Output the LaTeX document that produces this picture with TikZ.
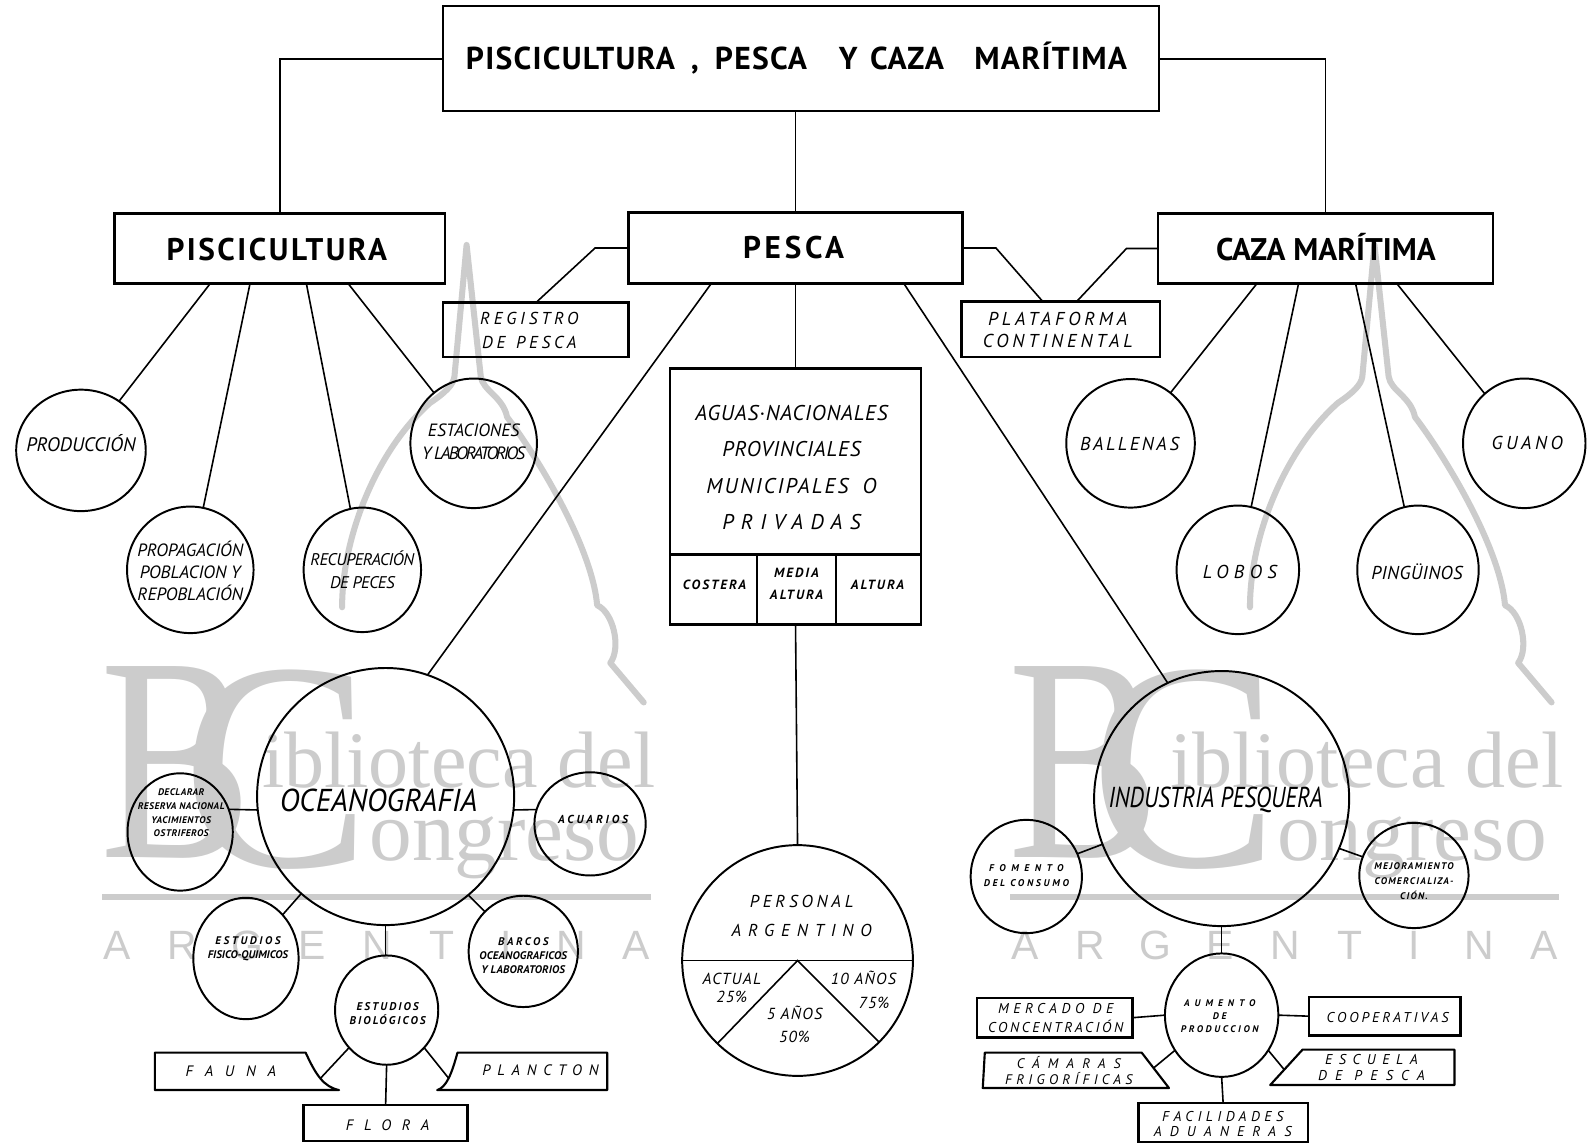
\documentclass[tikz,border=0pt]{standalone}
\usepackage{fontspec}
\setmainfont{PT Sans}
\newfontfamily\wmserif{Liberation Serif}
\newfontfamily\wmsans{Liberation Sans}
\usetikzlibrary{shapes.geometric,calc}
\definecolor{wmgray}{gray}{0.80}
\newcommand\hwf[3]{\fontsize{#1}{#2}\selectfont\itshape\addfontfeatures{LetterSpace=#3}}
\newcommand\hbf[3]{\fontsize{#1}{#2}\selectfont\bfseries\itshape\addfontfeatures{LetterSpace=#3}}
\newcommand\hdf[2]{\fontsize{#1}{#1}\selectfont\bfseries\addfontfeatures{LetterSpace=#2}}
\newcommand\lsp[1]{\addfontfeatures{LetterSpace=#1}}
\begin{document}
\begin{tikzpicture}[x=0.02cm,y=-0.02cm,
  every node/.style={inner sep=0pt,outer sep=0pt},
  box/.style args={#1/#2}{draw,rectangle,line width=1.3pt,minimum width=#1*0.02cm,minimum height=#2*0.02cm},
  circ/.style args={#1/#2}{draw,ellipse,line width=1.1pt,minimum width=#1*0.02cm,minimum height=#2*0.02cm},
  conn/.style={line width=0.9pt},
  tag/.style={line width=1.2pt,line join=round},
  lbl/.style={align=center},
  wmtext/.style={text=wmgray,anchor=base west},
  wmline/.style={draw=wmgray,line width=3.4pt,line cap=round,line join=round}]
\useasboundingbox (0,0) rectangle (1568,1129);
\fill[white] (0,0) rectangle (1568,1129);

% ---------------- watermark (two copies) ----------------
\foreach \dx/\n in {0/L,897/R}{
 \begin{scope}[shift={(\dx,0)}]
  \draw[wmline] (338,600) .. controls (338,530) and (372,445) .. (425,398)
     .. controls (440,388) and (448,380) .. (449,372) -- (461,242) -- (475,372)
     .. controls (477,386) and (497,392) .. (501,412)
     .. controls (530,450) and (585,540) .. (590,598)
     .. controls (606,605) and (614,640) .. (603,655) -- (636,694);
  \node[wmtext,font=\wmserif\fontsize{164}{164}\selectfont] (\n B) at (99,847) {\scalebox{0.78}[1]{B}};
  \node[wmtext,font=\wmserif\fontsize{167}{167}\selectfont] (\n C) at (180,856) {\scalebox{0.95}[1]{C}};
  \node[wmtext,font=\wmserif\fontsize{45}{46}\selectfont] (\n I) at (259,778) {iblioteca del};
  \node[wmtext,font=\wmserif\fontsize{48}{48}\selectfont] (\n O) at (365,850) {ongreso};
  \fill[wmgray] (101,883) rectangle (643,889);
  \foreach \ch [count=\k] in {A,R,G,E,N,T,I,N,A}{
    \node[text=wmgray,anchor=base,font=\wmsans\fontsize{23}{23}\selectfont] (\n a\k) at ({116+(\k-1)*64.1},948) {\ch};
  }
 \end{scope}
}

% ---------------- top level ----------------
\node[box=707/104] (title) at (791.5,58) {};
\node[anchor=base,font=\hdf{17.8}{4}] (titleT) at (787,69) {PISCICULTURA\hspace{9pt},\hspace{9pt}PESCA\hspace{18pt}Y\hspace{7pt}CAZA\hspace{17pt}MARÍTIMA};

\node[box=327/69] (pisc) at (276.5,245.5) {};
\node[box=330/70] (pesca) at (786,245) {};
\node[box=331/69] (caza) at (1309.5,245.5) {};
\node[anchor=base,font=\hdf{17.6}{8}] (piscT) at (273.5,257) {PISCICULTURA};
\node[anchor=base,font=\hdf{17.6}{12}] (pescaT) at (784,255) {PESCA};
\node[anchor=base,font=\hdf{17.6}{0}] (cazaT) at (1310,257) {CAZA MARÍTIMA};

\draw[conn] (title.west) -| (pisc.north);
\draw[conn] (title.east) -| (caza.north);
\draw[conn] (title.south -| pesca.north) -- (pesca.north);

% registro / plataforma
\node[box=183/54] (registro) at (529.5,326) {};
\node[lbl,font=\hwf{9.7}{13}{22}] (regT) at (523,326.5) {REGISTRO\\DE\hspace{6pt}PESCA};
\node[box=196/55] (plat) at (1048,325.5) {};
\node[lbl,font=\hwf{10.5}{12.5}{21}] (platT) at (1045,326) {PLATAFORMA\\CONTINENTAL};
\draw[conn] (pesca.west) -- ++(-33,0) -- (registro.north);
\draw[conn] (pesca.east) -- ++(33,0) -- ($(plat.north west)!0.41!(plat.north east)$);
\draw[conn] (caza.west) -- ++(-31,0) -- ($(plat.north west)!0.58!(plat.north east)$);

% ---------------- piscicultura children ----------------
\node[circ=128/120] (prod) at (80,445) {};
\node[circ=125/125] (prop) at (188,563) {};
\node[circ=116/123] (recu) at (358,563) {};
\node[circ=125/128] (esta) at (468,438) {};
\node[font=\hwf{11}{13}{0}] (prodT) at (80,438) {PRODUCCIÓN};
\node[lbl,font=\hwf{10}{12.2}{0}] (propT) at (188,564) {PROPAGACIÓN\\POBLACION Y\\REPOBLACIÓN};
\node[lbl,font=\hwf{9.5}{12.5}{-3}] (recT) at (358,563) {RECUPERACIÓN\\DE PECES};
\node[lbl,font=\hwf{10}{13}{0}] (estT) at (468,436.5) {ESTACIONES\\{\lsp{-12}Y LABORATORIOS}};
\coordinate (ps1) at ($(pisc.south west)!0.29!(pisc.south east)$);
\coordinate (ps2) at ($(pisc.south west)!0.41!(pisc.south east)$);
\coordinate (ps3) at ($(pisc.south west)!0.58!(pisc.south east)$);
\coordinate (ps4) at ($(pisc.south west)!0.706!(pisc.south east)$);
\draw[conn] (ps1) -- (prod);
\draw[conn] (ps2) -- (prop);
\draw[conn] (ps3) -- (recu);
\draw[conn] (ps4) -- (esta);

% ---------------- caza children ----------------
\node[circ=127/127] (ball) at (1117,438) {};
\node[circ=121/127] (lobo) at (1223,563) {};
\node[circ=120/127] (ping) at (1401,563) {};
\node[circ=121/128] (guan) at (1506,438) {};
\node[font=\hwf{10.5}{13}{14}] (ballT) at (1116,439) {BALLENAS};
\node[font=\hwf{10.5}{13}{29}] (lobT) at (1225,565) {LOBOS};
\node[font=\hwf{10.5}{13}{2}] (pinT) at (1400,565) {PINGÜINOS};
\node[font=\hwf{10.5}{13}{19}] (guaT) at (1509,438) {GUANO};
\coordinate (cz1) at ($(caza.south west)!0.296!(caza.south east)$);
\coordinate (cz2) at ($(caza.south west)!0.42!(caza.south east)$);
\coordinate (cz3) at ($(caza.south west)!0.59!(caza.south east)$);
\coordinate (cz4) at ($(caza.south west)!0.713!(caza.south east)$);
\draw[conn] (cz1) -- (ball);
\draw[conn] (cz2) -- (lobo);
\draw[conn] (cz3) -- (ping);
\draw[conn] (cz4) -- (guan);

% ---------------- aguas ----------------
\node[box=248/253] (aguas) at (786,490.5) {};
\coordinate (dv) at (0,548);
\coordinate (c1) at (748,548);
\coordinate (c2) at (826,548);
\draw[line width=1.3pt] (aguas.west |- dv) -- (aguas.east |- dv);
\draw[line width=1.3pt] (c1) -- (c1 |- aguas.south);
\draw[line width=1.3pt] (c2) -- (c2 |- aguas.south);
\node[lbl,font=\hwf{12}{20.4}{4}] (aguasT) at (782,462) {AGUAS·NACIONALES\\PROVINCIALES\\{\lsp{10}MUNICIPALES\hspace{8pt}O}\\{\lsp{34}PRIVADAS}};
\node[font=\hbf{7.5}{9}{15}] (cosT) at (706,578) {COSTERA};
\node[lbl,font=\hbf{7.5}{12.5}{15}] (medT) at (787,577) {MEDIA\\ALTURA};
\node[font=\hbf{7.5}{9}{15}] (altT) at (867,578) {ALTURA};
\draw[conn] (pesca.south) -- (aguas.north);

% ---------------- personal ----------------
\node[circ=228/228] (pers) at (788,949) {};
\draw[conn] (aguas.south) -- (pers.north);
\draw[conn] (pers.west) -- (pers.east);
\draw[conn] (pers.-134) -- (pers.center) -- (pers.-45);
\node[lbl,font=\hwf{9.7}{15.9}{22}] (persT) at (792,905) {PERSONAL\\{\lsp{40}ARGENTINO}};
\node[lbl,font=\hwf{9}{10.2}{8}] (actT) at (723,976) {ACTUAL\\25\%};
\node[lbl,font=\hwf{9}{13}{8}] (diezT) at (853,978) {10 AÑOS\\\hspace{12pt}75\%};
\node[lbl,font=\hwf{9}{12.5}{8}] (cincoT) at (785,1012) {5 AÑOS\\50\%};

% ---------------- oceanografia ----------------
\node[circ=254/254] (ocean) at (381,787) {};
\node[circ=104/116] (decl) at (178,822) {};
\node[circ=110/102] (acua) at (583,814) {};
\node[circ=104/120] (fis) at (243,947) {};
\node[circ=108/110] (barc) at (517,940) {};
\node[circ=102/108] (bio) at (382,998) {};
\node[box=162/35] (flora) at (381,1109.5) {};
\draw[conn] ($(pesca.south west)!0.248!(pesca.south east)$) -- (ocean.71);
\node[font=\hwf{17.8}{20}{0}] (oceanT) at (374,791) {\scalebox{0.95}[1]{OCEANOGRAFIA}};
\node[lbl,font=\hbf{5.4}{7.8}{5}] (declT) at (179,803) {DECLARAR\\RESERVA NACIONAL\\YACIMIENTOS\\OSTRIFEROS};
\node[font=\hbf{6.5}{8}{25}] (acuaT) at (586,810) {ACUARIOS};
\node[lbl,font=\hbf{6.2}{7.8}{0}] (fisT) at (245,937.5) {{\lsp{24}ESTUDIOS}\\FISICO-QUIMICOS};
\node[lbl,font=\hbf{6.2}{7.8}{2}] (barcT) at (517,944) {{\lsp{24}BARCOS}\\OCEANOGRAFICOS\\Y LABORATORIOS};
\node[lbl,font=\hbf{6.3}{7.8}{19}] (bioT) at (383,1001.5) {ESTUDIOS\\BIOLÓGICOS};
\draw[conn] (decl.25) -- (ocean.186);
\draw[conn] (ocean.354) -- (acua.165);
\draw[conn] (ocean.229) -- (fis.50);
\draw[conn] (ocean.310) -- (barc.134);
\draw[conn] (ocean.south) -- (ocean.south |- bio.north);
% tags
\draw[tag] (153,1040) -- (302,1040) .. controls (312,1062) and (320,1074) .. (335,1077) -- (153,1077) -- cycle;
\draw[tag] (452,1040) -- (600,1040) -- (600,1077) -- (432,1077) .. controls (441,1074) and (446,1062) .. (452,1040) -- cycle;
\coordinate (faunaC) at (317,1065);
\coordinate (planC) at (443,1065);
\node[font=\hwf{8.5}{10}{78}] (faunaT) at (228,1058) {FAUNA};
\node[font=\hwf{8.5}{10}{45}] (planT) at (534,1057) {PLANCTON};
\node[font=\hwf{8.5}{10}{71}] (floraT) at (383,1112) {FLORA};
\draw[conn] (bio.225) -- (faunaC);
\draw[conn] (bio.315) -- (planC);
\draw[conn] (bio.south) -- (flora.north);

% ---------------- industria pesquera ----------------
\node[circ=252/252] (ind) at (1207,789) {};
\node[circ=110/112] (fom) at (1014,866) {};
\node[circ=108/104] (mej) at (1397,865) {};
\node[circ=112/122] (aum) at (1207,1003) {};
\node[box=154/39] (merc) at (1042,1005.5) {};
\node[box=150/38] (coop) at (1368,1004) {};
\node[box=167/38] (fac) at (1208.5,1109) {};
\draw[conn] ($(pesca.south west)!0.824!(pesca.south east)$) -- (ind.115);
\node[font=\hwf{16.2}{18}{0}] (indT) at (1201,790) {\scalebox{0.8}[1]{INDUSTRIA PESQUERA}};
\node[lbl,font=\hbf{5.5}{8.5}{28}] (fomT) at (1014,865.5) {{\lsp{57}FOMENTO}\\DEL CONSUMO};
\node[lbl,font=\hbf{5.4}{8.4}{14}] (mejT) at (1397,870.5) {MEJORAMIENTO\\COMERCIALIZA-\\CIÓN.};
\node[lbl,font=\hbf{5.4}{7.4}{28}] (aumT) at (1205,1004) {{\lsp{53}AUMENTO}\\DE\\PRODUCCION};
\node[lbl,font=\hwf{8}{10.8}{19}] (mercT) at (1043,1005.5) {{\lsp{32}MERCADO DE}\\CONCENTRACIÓN};
\node[font=\hwf{8}{10}{21}] (coopT) at (1371,1005) {COOPERATIVAS};
\node[lbl,font=\hwf{7.8}{9}{31}] (camT) at (1056,1057.5) {{\lsp{58}CÁMARAS}\\FRIGORÍFICAS};
\node[lbl,font=\hwf{8}{9.2}{46}] (escT) at (1355,1055) {ESCUELA\\{\lsp{58}DE PESCA}};
\node[lbl,font=\hwf{8}{8.8}{31}] (facT) at (1208,1110.5) {FACILIDADES\\{\lsp{57}ADUANERAS}};
\draw[tag] (973,1040) -- (1128,1040) -- (1155,1075) -- (971,1075) -- cycle;
\draw[tag] (1287,1037) -- (1437,1037) -- (1437,1072) -- (1255,1072) -- cycle;
\coordinate (camC) at (1140,1055);
\coordinate (escC) at (1269,1057);
\draw[conn] (fom.24) -- (ind.201);
\draw[conn] (ind.337) -- (mej.160);
\draw[conn] (ind.south) -- (aum.north);
\draw[conn] (merc.east) -- (aum.west);
\draw[conn] (aum.east) -- (coop.west);
\draw[conn] (aum.217) -- (camC);
\draw[conn] (aum.323) -- (escC);
\draw[conn] (aum.south) -- (fac.north);
\end{tikzpicture}
\end{document}
